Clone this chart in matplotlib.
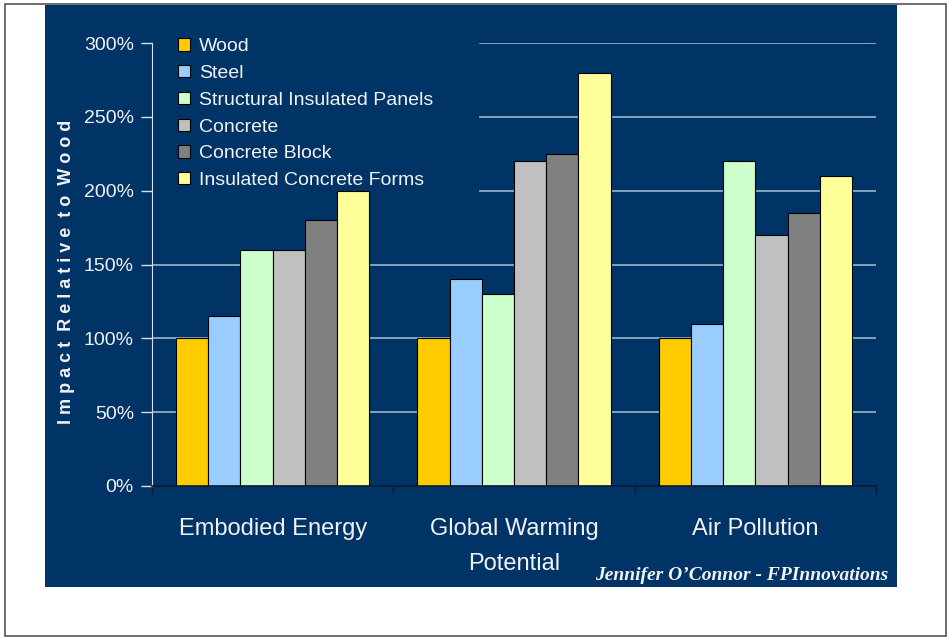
import numpy as np
import matplotlib
matplotlib.use('Agg')
import matplotlib.pyplot as plt
from matplotlib.patches import Rectangle

# datos
categorias = ["Embodied Energy", "Global Warming\nPotential", "Air Pollution"]
materiales = ["Wood", "Steel", "Structural Insulated Panels", "Concrete",
              "Concrete Block", "Insulated Concrete Forms"]
wood = [100, 100, 100]
steel = [115, 140, 110]
sip = [160, 130, 220]
concrete = [160, 220, 170]
concrete_block = [180, 225, 185]
icf = [200, 280, 210]
series = [wood, steel, sip, concrete, concrete_block, icf]
colores = ["#FFCC00", "#99CCFF", "#CCFFCC", "#C0C0C0", "#808080", "#FFFF99"]
y_ticks = [0, 50, 100, 150, 200, 250, 300]

NAVY = "#003366"
TXT = "#F2F2F2"
W, H = 949, 637

plt.rcParams['font.family'] = ['Liberation Sans', 'DejaVu Sans']

fig = plt.figure(figsize=(W / 100, H / 100), dpi=100)
fig.patch.set_facecolor("white")

# marco exterior y panel azul (detras de los ejes)
fig.patches.append(Rectangle((5 / W, 1 - 636 / H), 941 / W, 632 / H, transform=fig.transFigure,
                             fill=False, edgecolor="#555555", linewidth=1.2, zorder=-2))
fig.patches.append(Rectangle((45 / W, 1 - 587 / H), 852 / W, 582 / H, transform=fig.transFigure,
                             facecolor=NAVY, edgecolor="none", zorder=-1))

ax = fig.add_axes([152 / W, 1 - 486 / H, 724 / W, 443 / H])
ax.set_facecolor("none")

x = np.arange(len(categorias))
n = len(series)
ancho = 0.8 / n
for i, (vals, col, nom) in enumerate(zip(series, colores, materiales)):
    ax.bar(x - 0.4 + ancho * (i + 0.5), vals, ancho, color=col, edgecolor="black",
           linewidth=0.8, label=nom, zorder=3)

# lineas de cuadricula (ocultas detras de la leyenda arriba a la izquierda)
for t in y_ticks[1:]:
    inicio = 0.453 if t >= 200 else 0
    ax.axhline(t, xmin=inicio, xmax=1, color="#9AB8CC", linewidth=1.2, zorder=1)

ax.set_xlim(-0.5, len(categorias) - 0.5)
ax.set_ylim(0, 300)
ax.set_yticks(y_ticks)
ax.set_yticklabels([f"{t}%" for t in y_ticks], fontsize=14, color=TXT)
ax.tick_params(axis="y", direction="out", length=8, width=1, color="#D8E0E8", pad=5)

ax.set_xticks(np.arange(-0.5, len(categorias), 1.0))
ax.set_xticklabels([])
ax.tick_params(axis="x", direction="out", length=6, width=1, color="#0A1A30")
for xc, cat in zip(x, categorias):
    ax.text(xc, -0.072, cat, transform=ax.get_xaxis_transform(), ha="center", va="top",
            fontsize=17, color=TXT, linespacing=1.8)

for s in ["top", "right"]:
    ax.spines[s].set_visible(False)
ax.spines["left"].set_color("#D8E0E8")
ax.spines["bottom"].set_color("#0A1A30")
ax.spines["bottom"].set_linewidth(1.2)
ax.spines["bottom"].set_zorder(4)

leg = ax.legend(loc="upper left", bbox_to_anchor=(0.025, 1.028), frameon=False,
                fontsize=14, handlelength=0.6, handleheight=0.6, handletextpad=0.5,
                labelspacing=0.5, borderaxespad=0)
for txt in leg.get_texts():
    txt.set_color(TXT)

etiqueta = "  ".join(" ".join(p) for p in "Impact Relative to Wood".split())
fig.text(67 / W, 1 - 272 / H, etiqueta, rotation=90, ha="center", va="center",
         fontsize=13, fontweight="bold", color=TXT)

fig.text(888 / W, 1 - 580 / H, "Jennifer O\u2019Connor - FPInnovations", ha="right", va="baseline",
         fontsize=14, fontstyle="italic", fontweight="bold", color=TXT,
         family=["Liberation Serif", "DejaVu Serif"])

fig.savefig("out.png", dpi=100, facecolor=fig.get_facecolor())
